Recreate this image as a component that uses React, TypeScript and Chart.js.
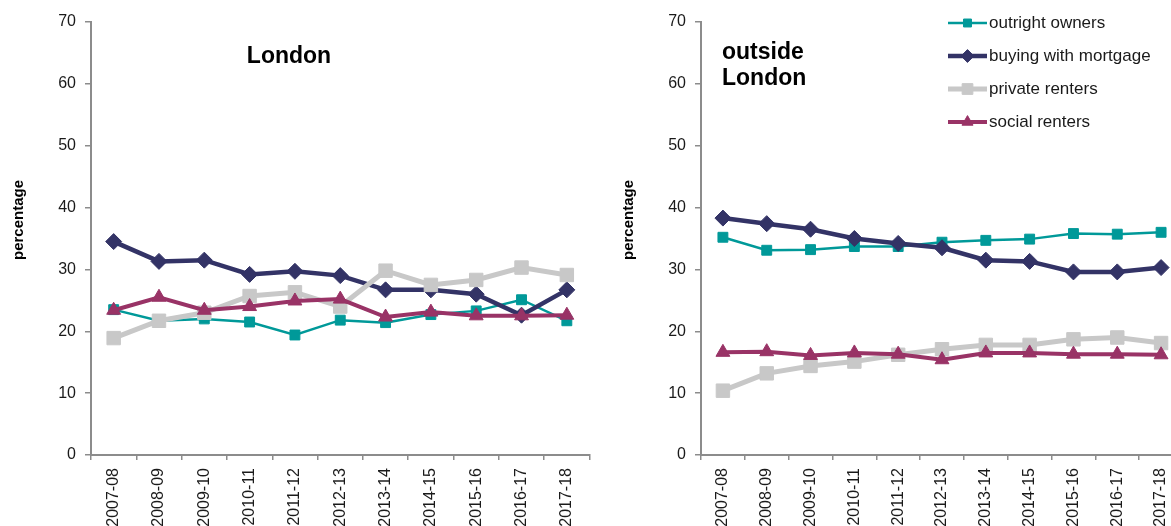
import React, { useEffect, useRef } from 'react';
import { Chart, registerables } from 'chart.js';
import { drawPoint } from 'chart.js/helpers';

Chart.register(...registerables);

const categories = ['2007-08', '2008-09', '2009-10', '2010-11', '2011-12', '2012-13', '2013-14', '2014-15', '2015-16', '2016-17', '2017-18'];
const seriesNames = ['outright owners', 'buying with mortgage', 'private renters', 'social renters'];

const londonOutright = [23.5, 21.7, 22.0, 21.5, 19.4, 21.8, 21.4, 22.7, 23.3, 25.1, 21.7];
const londonMortgage = [34.5, 31.3, 31.5, 29.2, 29.7, 29.0, 26.7, 26.7, 26.0, 22.6, 26.7];
const londonPrivate = [18.9, 21.7, 23.0, 25.7, 26.3, 24.0, 29.8, 27.5, 28.3, 30.3, 29.1];
const londonSocial = [23.4, 25.5, 23.4, 24.0, 24.9, 25.2, 22.3, 23.1, 22.5, 22.5, 22.6];

const outsideOutright = [35.2, 33.1, 33.2, 33.7, 33.7, 34.4, 34.7, 34.9, 35.8, 35.7, 36.0];
const outsideMortgage = [38.3, 37.4, 36.5, 35.0, 34.2, 33.5, 31.5, 31.3, 29.6, 29.6, 30.3];
const outsidePrivate = [10.4, 13.2, 14.4, 15.1, 16.2, 17.1, 17.8, 17.8, 18.7, 19.0, 18.1];
const outsideSocial = [16.6, 16.7, 16.1, 16.5, 16.3, 15.4, 16.5, 16.5, 16.3, 16.3, 16.2];

const yTicks = [0, 10, 20, 30, 40, 50, 60, 70];
const yTitle = 'percentage';

const FONT = '"Liberation Sans", Arial, Helvetica, sans-serif';
const TEAL = '#009999';
const NAVY = '#333366';
const GREY = '#C8C8C8';
const MAG = '#993366';
const AXIS = '#8C8C8C';
const TEXT = '#1a1a1a';

const panelTextPlugin = {
  id: 'panelText',
  afterDraw(chart: any, _args: any, opts: any) {
    const ctx = chart.ctx;
    ctx.save();
    ctx.fillStyle = '#000';
    ctx.font = `bold 15px ${FONT}`;
    ctx.translate(opts.yTitleX, opts.yTitleY);
    ctx.rotate(-Math.PI / 2);
    ctx.textAlign = 'center';
    ctx.textBaseline = 'middle';
    ctx.fillText(opts.yTitle, 0, 0);
    ctx.restore();
    ctx.save();
    ctx.fillStyle = '#000';
    ctx.font = `bold 23px ${FONT}`;
    ctx.textAlign = opts.titleAlign;
    ctx.textBaseline = 'middle';
    opts.titleLines.forEach((l: string, i: number) => {
      ctx.fillText(l, opts.titleX, opts.titleY + i * opts.titleLineHeight);
    });
    ctx.restore();
    if (opts.legend) {
      const { x0, x1, y0, dy, textX } = opts.legend;
      chart.data.datasets.forEach((ds: any, i: number) => {
        const y = y0 + i * dy;
        ctx.save();
        ctx.strokeStyle = ds.borderColor;
        ctx.lineWidth = ds.borderWidth;
        ctx.beginPath();
        ctx.moveTo(x0, y);
        ctx.lineTo(x1, y);
        ctx.stroke();
        ctx.fillStyle = ds.backgroundColor;
        ctx.strokeStyle = ds.borderColor;
        ctx.lineWidth = 1;
        drawPoint(ctx, { pointStyle: ds.pointStyle, radius: ds.pointRadius * 0.8, rotation: 0, borderWidth: 1 }, (x0 + x1) / 2, y);
        ctx.restore();
        ctx.save();
        ctx.fillStyle = TEXT;
        ctx.font = `17px ${FONT}`;
        ctx.textAlign = 'left';
        ctx.textBaseline = 'middle';
        ctx.fillText(ds.label, textX, y);
        ctx.restore();
      });
    }
  },
};

function makeConfig(outright: number[], mortgage: number[], priv: number[], social: number[], yWidth: number, padRight: number, textOpts: any) {
  return {
    type: 'line',
    data: {
      labels: categories,
      datasets: [
        { label: seriesNames[0], data: outright, borderColor: TEAL, backgroundColor: TEAL, borderWidth: 2.5, pointStyle: 'rect', pointRadius: 7, pointBorderWidth: 1, order: 4 },
        { label: seriesNames[1], data: mortgage, borderColor: NAVY, backgroundColor: NAVY, borderWidth: 4.5, pointStyle: 'rectRot', pointRadius: 8, pointBorderWidth: 1, order: 3 },
        { label: seriesNames[2], data: priv, borderColor: GREY, backgroundColor: GREY, borderWidth: 5, pointStyle: 'rect', pointRadius: 9.5, pointBorderWidth: 1, order: 2 },
        { label: seriesNames[3], data: social, borderColor: MAG, backgroundColor: MAG, borderWidth: 4, pointStyle: 'triangle', pointRadius: 8, pointBorderWidth: 1, order: 1 },
      ],
    },
    options: {
      responsive: false,
      animation: false,
      devicePixelRatio: 1,
      layout: { padding: { top: 22, right: padRight, left: 0, bottom: 0 } },
      elements: { line: { tension: 0 } },
      plugins: {
        legend: { display: false },
        tooltip: { enabled: false },
        panelText: textOpts,
      },
      scales: {
        x: {
          type: 'category',
          offset: true,
          grid: { display: true, drawOnChartArea: false, drawTicks: true, tickLength: 5, color: AXIS, lineWidth: 1.5, offset: true },
          border: { display: true, color: AXIS, width: 2 },
          ticks: { autoSkip: false, minRotation: 90, maxRotation: 90, padding: 8, color: TEXT, font: { family: FONT, size: 16 } },
          afterFit: (s: any) => { s.height = 105; },
        },
        y: {
          min: yTicks[0],
          max: yTicks[yTicks.length - 1],
          afterBuildTicks: (s: any) => { s.ticks = yTicks.map((v) => ({ value: v })); },
          grid: { display: true, drawOnChartArea: false, drawTicks: true, tickLength: 6, color: AXIS, lineWidth: 1.5 },
          border: { display: true, color: AXIS, width: 2 },
          ticks: { padding: 9, color: TEXT, font: { family: FONT, size: 16 } },
          afterFit: (s: any) => { s.width = yWidth; },
        },
      },
    },
    plugins: [panelTextPlugin],
  };
}

function Panel({ config, left }: { config: any; left: number }) {
  const ref = useRef<HTMLCanvasElement>(null);
  useEffect(() => {
    const chart = new Chart(ref.current as HTMLCanvasElement, config);
    return () => chart.destroy();
  }, [config]);
  return <canvas ref={ref} width={600} height={560} style={{ position: 'absolute', left, top: 0, display: 'block' }} />;
}

const londonConfig = makeConfig(londonOutright, londonMortgage, londonPrivate, londonSocial, 91, 9, {
  yTitle, yTitleX: 19, yTitleY: 220,
  titleLines: ['London'], titleX: 289, titleY: 57, titleAlign: 'center', titleLineHeight: 26,
});

const outsideConfig = makeConfig(outsideOutright, outsideMortgage, outsidePrivate, outsideSocial, 101, 17, {
  yTitle, yTitleX: 29, yTitleY: 220,
  titleLines: ['outside', 'London'], titleX: 122, titleY: 53, titleAlign: 'left', titleLineHeight: 26,
  legend: { x0: 348, x1: 387, y0: 23, dy: 33, textX: 389 },
});

export default function App() {
  return (
    <div style={{ position: 'fixed', left: 0, top: 0, width: 1171, height: 526, overflow: 'hidden', background: '#fff' }}>
      <Panel config={londonConfig} left={0} />
      <Panel config={outsideConfig} left={600} />
    </div>
  );
}
